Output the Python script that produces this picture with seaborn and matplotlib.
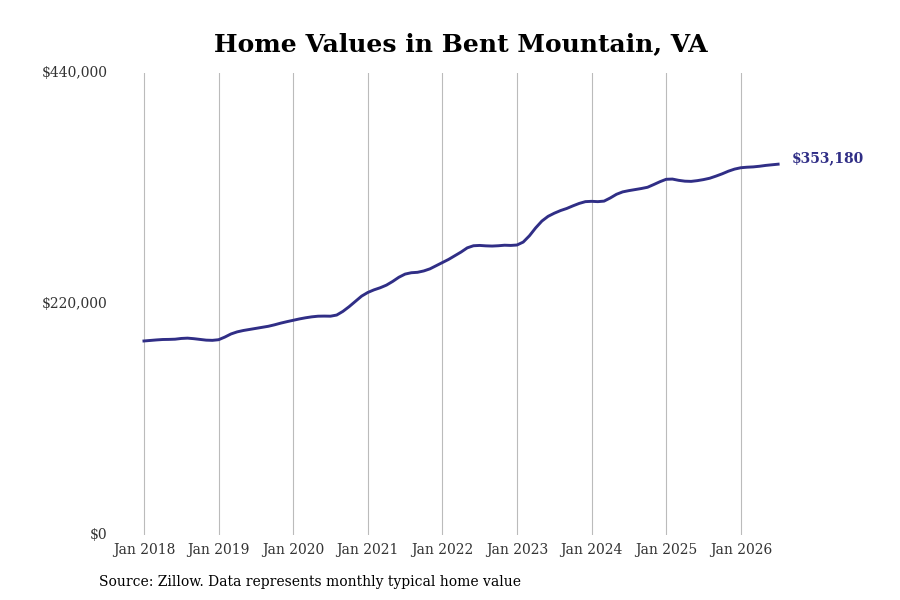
import matplotlib
matplotlib.use("Agg")
import matplotlib.pyplot as plt
import seaborn as sns
import pandas as pd

#%% Datos: valor tipico mensual (miles de USD), ene 2018 - jul 2026
anios = ["2018", "2019", "2020", "2021", "2022", "2023", "2024", "2025", "2026"]

valores_miles = [
    # 2018
    184.8, 185.3, 185.8, 186.2, 186.3, 186.5, 187.2, 187.5, 187.0, 186.3, 185.6, 185.4,
    # 2019
    186.0, 188.5, 191.5, 193.5, 194.8, 195.8, 196.8, 197.8, 198.8, 200.2, 201.8, 203.2,
    # 2020
    204.5, 205.8, 206.9, 207.8, 208.4, 208.5, 208.4, 209.5, 213.0, 217.5, 222.5, 227.5,
    # 2021
    231.0, 233.5, 235.5, 238.0, 241.5, 245.5, 248.5, 249.8, 250.2, 251.5, 253.5, 256.5,
    # 2022
    259.5, 262.5, 266.0, 269.5, 273.5, 275.5, 275.8, 275.4, 275.2, 275.5, 276.0, 275.8,
    # 2023
    276.2, 279.0, 285.0, 292.5, 299.0, 303.5, 306.5, 309.0, 311.0, 313.5, 315.8, 317.5,
    # 2024
    317.8, 317.5, 318.0, 321.0, 324.5, 326.8, 328.0, 329.0, 330.0, 331.2, 333.8, 336.5,
    # 2025
    338.8, 339.0, 337.8, 337.0, 336.8, 337.5, 338.5, 339.8, 341.8, 344.0, 346.5, 348.5,
    # 2026
    349.8, 350.3, 350.6, 351.2, 352.0, 352.6, 353.18,
]

ticks_y = [0, 220000, 440000]
etiquetas_y = ["$0", "$220,000", "$440,000"]
etiqueta_final = "$353,180"

df = pd.DataFrame({
    "mes": range(len(valores_miles)),
    "valor": [v * 1000 for v in valores_miles],
})

#%% Grafico
color_linea = "#302e86"
plt.rcParams["font.family"] = ["DejaVu Serif"]

fig = plt.figure(figsize=(9, 6), dpi=100)
ax = fig.add_axes([0.1244, 0.1083, 0.7533, 0.77])

sns.lineplot(data=df, x="mes", y="valor", color=color_linea, linewidth=2.1, ax=ax)

ax.set_xlim(-5.15, 103.9)
ax.set_ylim(0, 440000)
ax.set_xticks([12 * i for i in range(len(anios))])
ax.set_xticklabels(["Jan " + a for a in anios], fontsize=10, color="#333333")
ax.set_yticks(ticks_y)
ax.set_yticklabels(etiquetas_y, fontsize=10, color="#333333")
ax.tick_params(length=0, pad=6)
ax.tick_params(axis="y", pad=3)
for lbl in ax.get_yticklabels():
    lbl.set_verticalalignment("center")

ax.grid(axis="x", color="#bbbbbb", linewidth=0.8)
ax.grid(axis="y", visible=False)
ax.set_axisbelow(True)
for s in ax.spines.values():
    s.set_visible(False)
ax.set_xlabel("")
ax.set_ylabel("")

# Etiqueta del ultimo valor
ax.annotate(etiqueta_final, xy=(df["mes"].iloc[-1], df["valor"].iloc[-1]),
            xytext=(10, 4), textcoords="offset points", fontsize=10,
            fontweight="bold", color=color_linea, va="center", ha="left",
            annotation_clip=False)

fig.text(0.512, 0.927, "Home Values in Bent Mountain, VA", ha="center", va="center",
         fontsize=18, fontweight="bold", color="black")
fig.text(0.11, 0.03, "Source: Zillow. Data represents monthly typical home value",
         ha="left", va="center", fontsize=10, color="black")

fig.savefig("out.png", dpi=100)
